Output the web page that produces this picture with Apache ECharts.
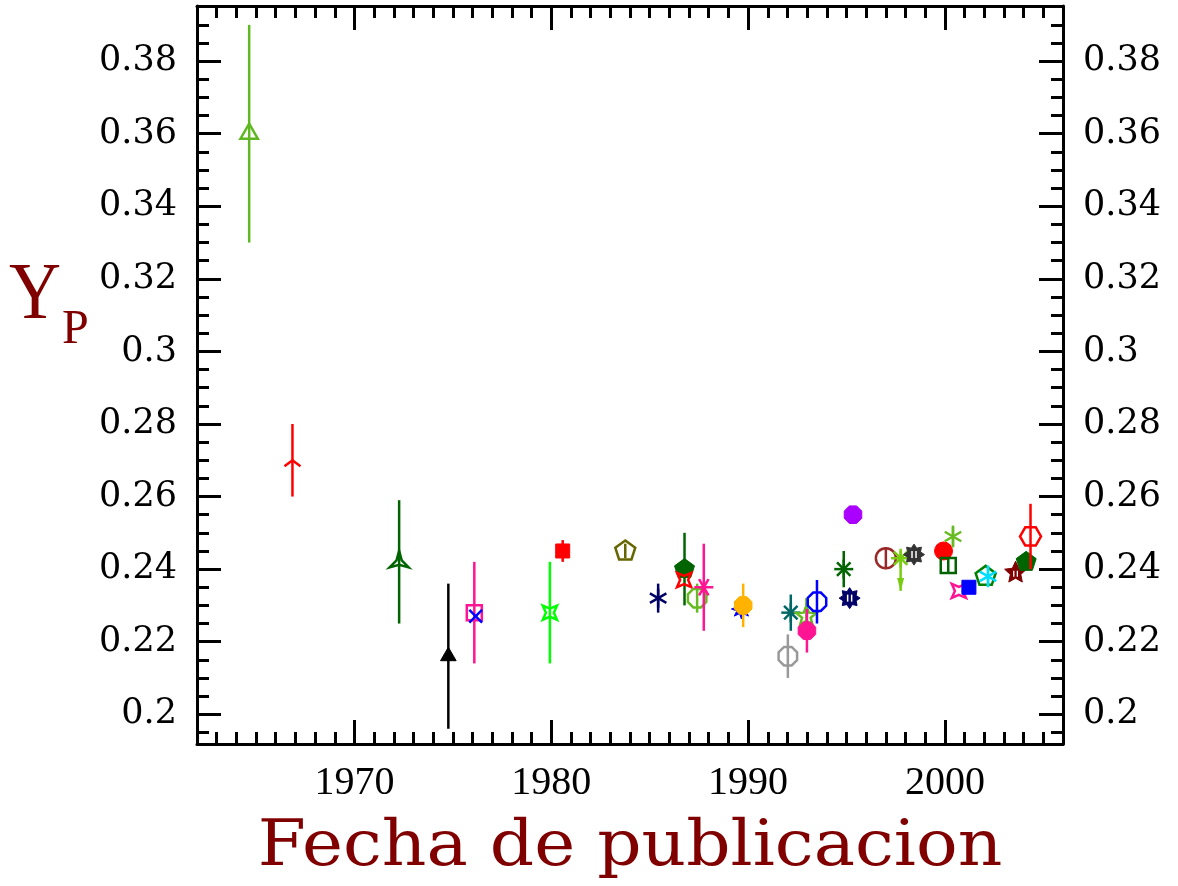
<!DOCTYPE html>
<html>
<head>
<meta charset="utf-8">
<script src="https://cdn.jsdelivr.net/npm/echarts@6.0.0/dist/echarts.min.js"></script>
<style>
  html, body { margin: 0; padding: 0; background: #fff; }
  #chart { width: 1178px; height: 886px; }
</style>
</head>
<body>
<div id="chart"></div>
<script>
// Primordial helium abundance Yp against publication year
const pubYear = [1964.65, 1966.85, 1972.27, 1974.77, 1976.09, 1976.16, 1979.93, 1980.58,
  1983.76, 1985.43, 1986.77, 1986.75, 1987.41, 1987.75, 1989.66, 1989.75, 1992.17, 1992.02,
  1992.96, 1992.99, 1993.5, 1994.86, 1995.33, 1995.16, 1997.0, 1997.75, 1998.43, 1999.93,
  2000.41, 2000.17, 2000.71, 2001.22, 2002.07, 2002.19, 2003.59, 2004.13, 2004.35];
const yP = [0.360, 0.270, 0.242, 0.216, 0.228, 0.227, 0.228, 0.245,
  0.245, 0.232, 0.240, 0.237, 0.232, 0.235, 0.229, 0.230, 0.228, 0.216,
  0.227, 0.223, 0.231, 0.240, 0.255, 0.232, 0.243, 0.243, 0.244, 0.245,
  0.249, 0.241, 0.234, 0.235, 0.238, 0.238, 0.239, 0.242, 0.249];
const errMinus = [0.030, 0.010, 0.017, 0.020, 0.014, 0, 0.014, 0.003,
  0.002, 0.004, 0.010, 0, 0.004, 0.012, 0, 0.006, 0.005, 0.006,
  0.005, 0.006, 0.006, 0.005, 0, 0, 0.003, 0.009, 0, 0,
  0.003, 0.002, 0, 0, 0, 0.003, 0, 0, 0.009];
const errPlus = [0.030, 0.010, 0.017, 0.020, 0.014, 0, 0.014, 0.003,
  0.002, 0.004, 0.010, 0, 0.004, 0.012, 0, 0.006, 0.005, 0.006,
  0.005, 0.006, 0.006, 0.005, 0, 0, 0.003, 0.002, 0, 0,
  0.003, 0.002, 0, 0, 0, 0.003, 0, 0, 0.009];

const xMajorTicks = [1970, 1980, 1990, 2000];
const yMajorTicks = [0.20, 0.22, 0.24, 0.26, 0.28, 0.30, 0.32, 0.34, 0.36, 0.38];

// Marker look for each measurement (shape + colour)
const markerStyle = [
  { shape: 'triOpen', color: '#5fb822' },
  { shape: 'chevron', color: '#ff0000' },
  { shape: 'tristar', color: '#006400' },
  { shape: 'triFill', color: '#000000' },
  { shape: 'sqOpen', color: '#ff1493' },
  { shape: 'cross', color: '#0000ff' },
  { shape: 'star4', color: '#00ff00' },
  { shape: 'sqFill', color: '#ff0000' },
  { shape: 'pentOpen', color: '#666600' },
  { shape: 'ast6v', color: '#000066' },
  { shape: 'pentFill', color: '#006400' },
  { shape: 'star4', color: '#ff0000' },
  { shape: 'octOpen', color: '#66bb22' },
  { shape: 'ast6h', color: '#ff1493' },
  { shape: 'star8Fill', color: '#0000ff' },
  { shape: 'octFill', color: '#ffb300' },
  { shape: 'ast8', color: '#006666' },
  { shape: 'octOpen', color: '#999999' },
  { shape: 'star5', color: '#66bb22' },
  { shape: 'octFill', color: '#ff1493' },
  { shape: 'octOpen', color: '#0000ff' },
  { shape: 'ast8', color: '#006400' },
  { shape: 'octFill', color: '#aa00ff' },
  { shape: 'gear', color: '#000066' },
  { shape: 'circleOpen', color: '#992828' },
  { shape: 'ast8', color: '#77cc11', arrowDown: true },
  { shape: 'gear', color: '#333333' },
  { shape: 'circleFill', color: '#ff0000' },
  { shape: 'ast6v', color: '#66bb22' },
  { shape: 'sqOpen', color: '#006400' },
  { shape: 'star4', color: '#ff1493' },
  { shape: 'sqFill', color: '#0000ff' },
  { shape: 'pentOpen', color: '#008000' },
  { shape: 'ast6v', color: '#00ddff' },
  { shape: 'star5Fill', color: '#800000' },
  { shape: 'pentFill', color: '#006400' },
  { shape: 'hexOpen', color: '#ff0000' }
];

const X_MIN = 1962, X_MAX = 2006;
const Y_MIN = 0.1918, Y_MAX = 0.3952;

function range(a, b, step) {
  const out = [];
  for (let k = 0; a + k * step <= b + 1e-9; k++) {
    out.push(Math.round((a + k * step) * 10000) / 10000);
  }
  return out;
}
const xMinorTicks = range(1963, 2005, 1);
const yMinorTicks = range(0.195, 0.395, 0.005);

function regPoly(n, r, rot) {
  const pts = [];
  for (let k = 0; k < n; k++) {
    const a = rot + k * 2 * Math.PI / n;
    pts.push([r * Math.cos(a), r * Math.sin(a)]);
  }
  return pts;
}
function starPts(n, rOut, rIn, rot) {
  const pts = [];
  for (let k = 0; k < 2 * n; k++) {
    const a = rot + k * Math.PI / n;
    const r = k % 2 === 0 ? rOut : rIn;
    pts.push([r * Math.cos(a), r * Math.sin(a)]);
  }
  return pts;
}
function spokes(angles, r, color) {
  return angles.map(function (a) {
    return { type: 'line', shape: { x1: -r * Math.cos(a), y1: -r * Math.sin(a), x2: r * Math.cos(a), y2: r * Math.sin(a) },
      style: { stroke: color, lineWidth: 2.5 } };
  });
}

function markerShape(shape, color) {
  const open = { fill: 'none', stroke: color, lineWidth: 2.5 };
  const full = { fill: color, stroke: color, lineWidth: 1 };
  const P = Math.PI;
  switch (shape) {
    case 'triOpen': return [{ type: 'polygon', shape: { points: regPoly(3, 10, -P / 2) }, style: open }];
    case 'triFill': return [{ type: 'polygon', shape: { points: regPoly(3, 9, -P / 2) }, style: full }];
    case 'chevron': return [{ type: 'polyline', shape: { points: [[-8, 6], [0, 0], [8, 6]] }, style: open }];
    case 'tristar': return [{ type: 'polygon', shape: { points: starPts(3, 11, 3, -P / 2) }, style: open }];
    case 'sqOpen': return [{ type: 'rect', shape: { x: -7.5, y: -7.5, width: 15, height: 15 }, style: open }];
    case 'sqFill': return [{ type: 'rect', shape: { x: -7, y: -7, width: 14, height: 14 }, style: full }];
    case 'cross': return spokes([P / 4, 3 * P / 4], 9, color);
    case 'star4': return [{ type: 'polygon', shape: { points: starPts(4, 10, 4, -P / 4) }, style: open }];
    case 'pentOpen': return [{ type: 'polygon', shape: { points: regPoly(5, 10.5, -P / 2) }, style: open }];
    case 'pentFill': return [{ type: 'polygon', shape: { points: regPoly(5, 10.5, -P / 2) }, style: full }];
    case 'ast6v': return spokes([P / 2, P / 6, 5 * P / 6], 9.5, color);
    case 'ast6h': return spokes([0, P / 3, 2 * P / 3], 9.5, color);
    case 'ast8': return spokes([0, P / 4, P / 2, 3 * P / 4], 9.5, color);
    case 'octOpen': return [{ type: 'polygon', shape: { points: regPoly(8, 10, P / 8) }, style: open }];
    case 'octFill': return [{ type: 'polygon', shape: { points: regPoly(8, 9.5, P / 8) }, style: full }];
    case 'hexOpen': return [{ type: 'polygon', shape: { points: regPoly(6, 10.5, 0) }, style: open }];
    case 'star8Fill': return [{ type: 'polygon', shape: { points: starPts(8, 10, 5, -P / 2) }, style: full }];
    case 'gear': return [
      { type: 'polygon', shape: { points: starPts(8, 10.5, 7, -P / 2) }, style: full },
      { type: 'line', shape: { x1: -2, y1: -3.5, x2: -2, y2: 3.5 }, style: { stroke: '#fff', lineWidth: 1.5 } },
      { type: 'line', shape: { x1: 2, y1: -3.5, x2: 2, y2: 3.5 }, style: { stroke: '#fff', lineWidth: 1.5 } }
    ];
    case 'circleOpen': return [{ type: 'circle', shape: { cx: 0, cy: 0, r: 10 }, style: open }];
    case 'circleFill': return [{ type: 'circle', shape: { cx: 0, cy: 0, r: 9 }, style: full }];
    case 'star5': return [{ type: 'polygon', shape: { points: starPts(5, 10.5, 4.5, -P / 2) }, style: open }];
    case 'star5Fill': return [
      { type: 'polygon', shape: { points: starPts(5, 11.5, 5.5, -P / 2) }, style: full },
      { type: 'line', shape: { x1: -1.8, y1: -2, x2: -1.8, y2: 4 }, style: { stroke: '#fff', lineWidth: 1.3 } },
      { type: 'line', shape: { x1: 1.8, y1: -2, x2: 1.8, y2: 4 }, style: { stroke: '#fff', lineWidth: 1.3 } }
    ];
  }
  return [];
}

function renderPoint(params, api) {
  const i = params.dataIndex;
  const st = markerStyle[i];
  const c = api.coord([api.value(0), api.value(1)]);
  const lo = api.coord([api.value(0), api.value(2)]);
  const hi = api.coord([api.value(0), api.value(3)]);
  const children = [];
  if (Math.abs(lo[1] - hi[1]) > 0.5) {
    children.push({ type: 'line', shape: { x1: 0, y1: hi[1] - c[1], x2: 0, y2: lo[1] - c[1] },
      style: { stroke: st.color, lineWidth: 2.5 } });
  }
  if (st.arrowDown) {
    const yb = lo[1] - c[1];
    children.push({ type: 'polygon', shape: { points: [[-3.5, yb - 13], [3.5, yb - 13], [0, yb]] },
      style: { fill: st.color } });
  }
  Array.prototype.push.apply(children, markerShape(st.shape, st.color));
  return { type: 'group', x: c[0], y: c[1], children: children };
}

const seriesData = pubYear.map(function (x, i) {
  return [x, yP[i], yP[i] - errMinus[i], yP[i] + errPlus[i]];
});

const lineStyle = { color: '#000', width: 3 };

function xAxisDef(position, ticks, len, withLine, withLabels) {
  return {
    type: 'value', position: position, min: X_MIN, max: X_MAX,
    axisLine: { show: withLine, lineStyle: lineStyle },
    axisTick: { show: true, inside: true, length: len, customValues: ticks, lineStyle: lineStyle },
    axisLabel: { show: withLabels, customValues: ticks, margin: 19,
      fontFamily: 'Liberation Serif', fontSize: 40, color: '#000',
      formatter: function (v) { return String(Math.round(v)); } },
    splitLine: { show: false }
  };
}
function yAxisDef(position, ticks, len, withLine, withLabels) {
  return {
    type: 'value', position: position, min: Y_MIN, max: Y_MAX,
    axisLine: { show: withLine, lineStyle: lineStyle },
    axisTick: { show: true, inside: true, length: len, customValues: ticks, lineStyle: lineStyle },
    axisLabel: { show: withLabels, customValues: ticks, margin: 20,
      fontFamily: 'DejaVu Serif', fontSize: 35, color: '#000',
      formatter: function (v) { return String(+(+v).toFixed(3)); } },
    splitLine: { show: false }
  };
}

const chart = echarts.init(document.getElementById('chart'), null, { renderer: 'canvas' });
chart.setOption({
  animation: false,
  backgroundColor: '#fff',
  grid: { left: 197, right: 115, top: 6, bottom: 142, containLabel: false },
  xAxis: [
    xAxisDef('bottom', xMajorTicks, 24, true, true),
    xAxisDef('bottom', xMinorTicks, 12, false, false),
    xAxisDef('top', xMajorTicks, 24, true, false),
    xAxisDef('top', xMinorTicks, 12, false, false)
  ],
  yAxis: [
    yAxisDef('left', yMajorTicks, 24, true, true),
    yAxisDef('left', yMinorTicks, 12, false, false),
    yAxisDef('right', yMajorTicks, 24, true, true),
    yAxisDef('right', yMinorTicks, 12, false, false)
  ],
  series: [{
    type: 'custom',
    xAxisIndex: 0, yAxisIndex: 0,
    silent: true,
    clip: false,
    renderItem: renderPoint,
    encode: { x: 0, y: 1 },
    data: seriesData
  }],
  graphic: [
    { type: 'text', x: 630, y: 849, scaleX: 1.1, silent: true,
      style: { text: 'Fecha de publicacion', font: '63px "DejaVu Serif"', fill: '#800000',
        textAlign: 'center', textVerticalAlign: 'middle', align: 'center', verticalAlign: 'middle' } },
    { type: 'text', x: 9, y: 297, scaleX: 0.9, silent: true,
      style: { text: 'Y', font: '80px "Liberation Serif"', fill: '#800000',
        textAlign: 'left', textVerticalAlign: 'middle', align: 'left', verticalAlign: 'middle' } },
    { type: 'text', x: 62, y: 330, silent: true,
      style: { text: 'P', font: '48px "Liberation Serif"', fill: '#800000',
        textAlign: 'left', textVerticalAlign: 'middle', align: 'left', verticalAlign: 'middle' } }
  ]
});
</script>
</body>
</html>
